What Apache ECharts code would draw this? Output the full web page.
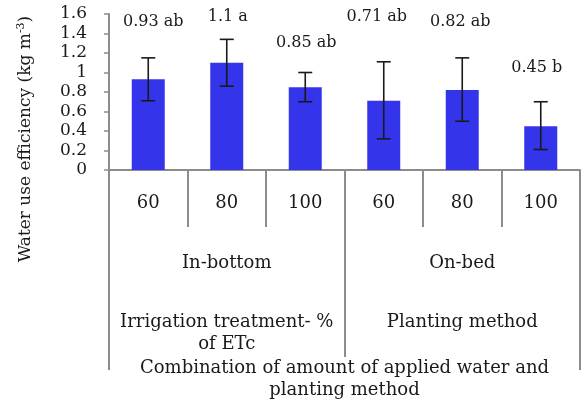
<!DOCTYPE html>
<html><head><meta charset="utf-8">
<script src="https://cdn.jsdelivr.net/npm/echarts@6/dist/echarts.min.js"></script>
<style>html,body{margin:0;padding:0;background:#fff}#c{width:581px;height:405px}</style>
</head><body><div id="c"></div>
<script>
var categories = ['60','80','100','60','80','100'];
var groups = ['In-bottom','On-bed'];
var factorLabels = ['Irrigation treatment- %\nof ETc','Planting method'];
var axisTitle = ['Combination of amount of applied water and\nplanting method'];
var values = [0.93, 1.1, 0.85, 0.71, 0.82, 0.45];
var errLow = [0.71, 0.86, 0.70, 0.32, 0.50, 0.21];
var errHigh = [1.15, 1.34, 1.00, 1.11, 1.15, 0.70];
var labelTexts = ['0.93 ab','1.1 a','0.85 ab','0.71 ab','0.82 ab','0.45 b'];
var labelY = [1.518, 1.569, 1.303, 1.569, 1.518, 1.046];
var labelDx = [5, 1, 1, -7, -2, -4];
var yTicks = {min:0, max:1.6, interval:0.2};

var FONT = 'DejaVu Serif';
var GREY = '#8c8c8c';
var TXT = '#1a1a1a';

var chart = echarts.init(document.getElementById('c'), null, {renderer:'canvas'});
var option = {
  backgroundColor:'#fff',
  animation:false,
  grid:{left:109, right:1, top:14, bottom:235, containLabel:false},
  xAxis:[
    {type:'category', data:categories, position:'bottom', offset:0,
     axisLine:{show:true, lineStyle:{color:GREY, width:2}},
     axisTick:{show:true, length:57, interval:0, lineStyle:{color:GREY, width:2}},
     axisLabel:{interval:0, margin:22, fontFamily:FONT, fontSize:18, color:TXT, lineHeight:22},
     splitLine:{show:false}},
    {type:'category', data:groups, position:'bottom', offset:57,
     axisLine:{show:false},
     axisTick:{show:true, length:130, interval:0, lineStyle:{color:GREY, width:2}},
     axisLabel:{interval:0, margin:25, fontFamily:FONT, fontSize:18, color:TXT, lineHeight:22}},
    {type:'category', data:factorLabels, position:'bottom', offset:57,
     axisLine:{show:false}, axisTick:{show:false},
     axisLabel:{interval:0, margin:84, fontFamily:FONT, fontSize:18, color:TXT, lineHeight:22}},
    {type:'category', data:axisTitle, position:'bottom', offset:187,
     axisLine:{show:false},
     axisTick:{show:true, length:13, interval:0, lineStyle:{color:GREY, width:2}},
     axisLabel:{interval:0, margin:0, fontFamily:FONT, fontSize:18, color:TXT, lineHeight:22}}
  ],
  yAxis:{type:'value', min:yTicks.min, max:yTicks.max, interval:yTicks.interval,
     axisLine:{show:true, lineStyle:{color:GREY, width:2}},
     axisTick:{show:true, length:5, lineStyle:{color:GREY, width:1.5}},
     axisLabel:{margin:22, fontFamily:FONT, fontSize:17, color:TXT},
     splitLine:{show:false}},
  graphic:[{
    type:'text', x:26, y:139, rotation:Math.PI/2,
    style:{text:'Water use efficiency (kg m{sup|-3})', fontFamily:FONT, fontSize:17, fill:TXT,
      align:'center', verticalAlign:'middle',
      rich:{sup:{fontSize:11, fontFamily:FONT, fill:TXT, verticalAlign:'top', padding:[0,0,9,0]}}}
  }],
  series:[
    {type:'bar', xAxisIndex:0, data:values, barWidth:33,
     itemStyle:{color:'#3434ea'}},
    {type:'custom', xAxisIndex:0, z:5,
     data:categories.map(function(c,i){return [i, errLow[i], errHigh[i]];}),
     renderItem:function(params, api){
       var x = api.coord([api.value(0), 0])[0];
       var lo = api.coord([api.value(0), api.value(1)])[1];
       var hi = api.coord([api.value(0), api.value(2)])[1];
       var hw = 7;
       var st = {stroke:'#1a1a1a', lineWidth:1.6};
       return {type:'group', children:[
         {type:'line', shape:{x1:x,y1:lo,x2:x,y2:hi}, style:st},
         {type:'line', shape:{x1:x-hw,y1:hi,x2:x+hw,y2:hi}, style:st},
         {type:'line', shape:{x1:x-hw,y1:lo,x2:x+hw,y2:lo}, style:st}
       ]};
     }},
    {type:'scatter', xAxisIndex:0, symbolSize:0, z:6, itemStyle:{opacity:1},
     data:categories.map(function(c,i){return {value:[i, labelY[i]],
        label:{show:true, position:'inside', offset:[labelDx[i],0], formatter:labelTexts[i],
        fontFamily:FONT, fontSize:16, color:TXT}};})}
  ]
};
chart.setOption(option);
</script></body></html>
